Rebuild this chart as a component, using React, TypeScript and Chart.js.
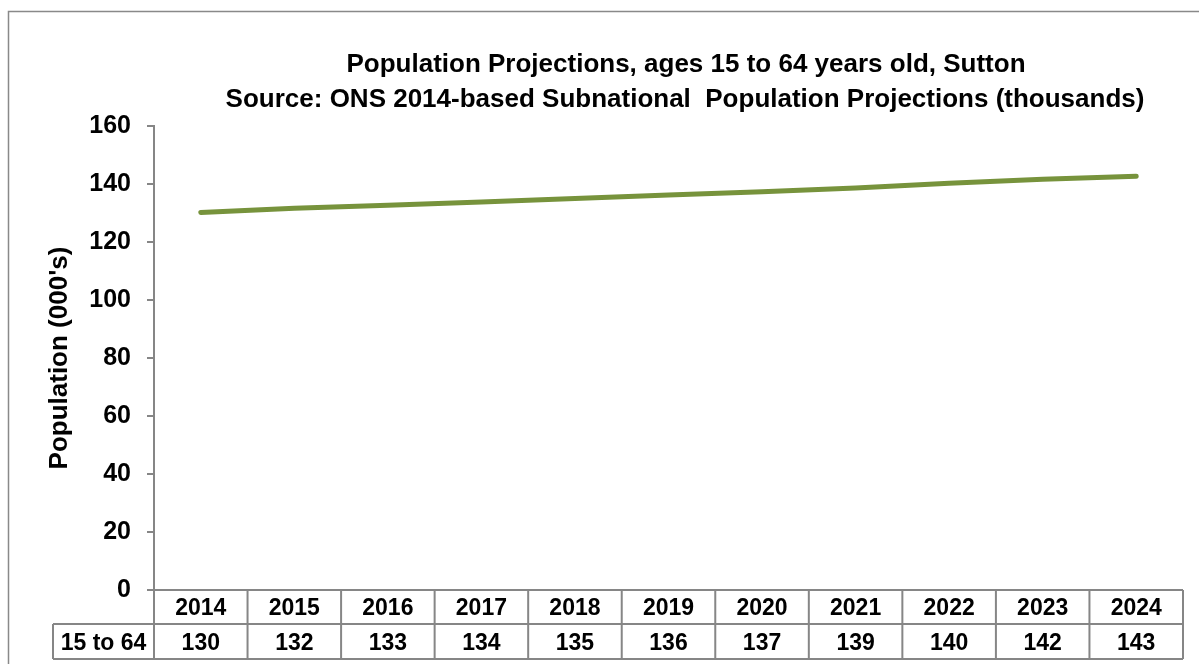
import React, { useEffect, useRef } from "react";
import { Chart, registerables } from "chart.js";

Chart.register(...registerables);

const years = ["2014", "2015", "2016", "2017", "2018", "2019", "2020", "2021", "2022", "2023", "2024"];
const ages15to64 = [130.2, 131.6, 132.7, 133.8, 135.0, 136.2, 137.3, 138.6, 140.3, 141.6, 142.7];
const seriesLabel = "15 to 64";
const titleLines = [
  "Population Projections, ages 15 to 64 years old, Sutton",
  "Source: ONS 2014-based Subnational  Population Projections (thousands)",
];
const yAxisTitle = "Population (000's)";

const FONT = '"Liberation Sans", Arial, sans-serif';
const GREY = "#868686";

const tablePlugin = {
  id: "excelTable",
  beforeDraw(chart: any) {
    const ctx = chart.ctx;
    ctx.save();
    ctx.strokeStyle = "#898989";
    ctx.lineWidth = 1.5;
    ctx.beginPath();
    ctx.moveTo(8.5, 664);
    ctx.lineTo(8.5, 11.5);
    ctx.lineTo(1199, 11.5);
    ctx.stroke();
    ctx.restore();
  },
  afterDraw(chart: any) {
    const ctx = chart.ctx;
    const area = chart.chartArea;
    const x = chart.scales.x;
    const n = years.length;
    const colW = (area.right - area.left) / n;
    const top = area.bottom;
    const mid = top + 34;
    const bot = top + 69;
    const labelLeft = 53;

    ctx.save();
    // titles
    ctx.fillStyle = "#000";
    ctx.textAlign = "center";
    ctx.textBaseline = "alphabetic";
    ctx.font = `bold 26px ${FONT}`;
    ctx.fillText(titleLines[0], 686, 72);
    ctx.fillText(titleLines[1], 685, 107);

    // table grid
    ctx.strokeStyle = GREY;
    ctx.lineWidth = 2;
    ctx.beginPath();
    ctx.moveTo(area.left, top);
    ctx.lineTo(area.right, top);
    ctx.moveTo(labelLeft, mid);
    ctx.lineTo(area.right, mid);
    ctx.moveTo(labelLeft, bot);
    ctx.lineTo(area.right, bot);
    for (let i = 0; i <= n; i++) {
      const xx = area.left + i * colW;
      ctx.moveTo(xx, top);
      ctx.lineTo(xx, bot);
    }
    ctx.moveTo(labelLeft, mid);
    ctx.lineTo(labelLeft, bot);
    ctx.stroke();

    // table text
    ctx.font = `bold 23px ${FONT}`;
    ctx.fillStyle = "#000";
    ctx.textAlign = "center";
    for (let i = 0; i < n; i++) {
      const cx = x.getPixelForValue(i);
      ctx.fillText(years[i], cx, top + 25);
      ctx.fillText(String(Math.round(ages15to64[i])), cx, mid + 26);
    }
    ctx.fillText(seriesLabel, (labelLeft + area.left) / 2, mid + 26);
    ctx.restore();
  },
};

export default function App() {
  const ref = useRef<HTMLCanvasElement | null>(null);
  useEffect(() => {
    if (!ref.current) return;
    const chart = new Chart(ref.current, {
      type: "line",
      data: {
        labels: years,
        datasets: [
          {
            label: seriesLabel,
            data: ages15to64,
            borderColor: "#77933C",
            backgroundColor: "#77933C",
            borderWidth: 5,
            pointRadius: 0,
            tension: 0,
            borderCapStyle: "round",
            borderJoinStyle: "round",
          },
        ],
      },
      options: {
        animation: false,
        responsive: false,
        devicePixelRatio: 1,
        layout: { padding: { top: 126, right: 16, left: 0, bottom: 0 } },
        plugins: { legend: { display: false }, title: { display: false }, tooltip: { enabled: false } },
        scales: {
          x: {
            type: "category",
            offset: true,
            grid: { display: false },
            border: { display: false },
            ticks: { display: false },
            afterFit: (s: any) => {
              s.height = 74;
            },
          },
          y: {
            min: 0,
            max: 160,
            ticks: {
              stepSize: 20,
              color: "#000",
              padding: 16,
              font: { family: FONT, size: 25, weight: "bold" },
            },
            grid: { drawOnChartArea: false, drawTicks: true, tickLength: 7, color: GREY, lineWidth: 2 },
            border: { display: true, color: GREY, width: 2 },
            title: {
              display: true,
              text: yAxisTitle,
              color: "#000",
              font: { family: FONT, size: 26, weight: "bold" },
              padding: { top: 44, bottom: 0 },
            },
            afterFit: (s: any) => {
              s.width = 154;
            },
          },
        },
      },
      plugins: [tablePlugin],
    } as any);
    return () => chart.destroy();
  }, []);
  return (
    <div style={{ position: "fixed", left: 0, top: 0, width: 1199, height: 664, background: "#fff" }}>
      <canvas ref={ref} width={1199} height={664} style={{ display: "block", width: 1199, height: 664 }} />
    </div>
  );
}
